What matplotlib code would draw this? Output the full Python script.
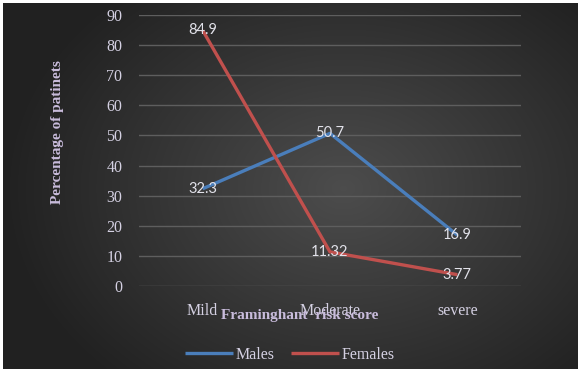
import numpy as np
import matplotlib
matplotlib.use("Agg")
import matplotlib.pyplot as plt

categories = ["Mild", "Moderate", "severe"]
males = [32.3, 50.7, 16.9]
females = [84.9, 11.32, 3.77]
male_labels = ["32.3", "50.7", "16.9"]
female_labels = ["84.9", "11.32", "3.77"]

W, H = 581, 372
fig = plt.figure(figsize=(W / 100, H / 100), dpi=100, facecolor="white")

# radial dark gradient background
bg = fig.add_axes([3 / W, 3 / H, 575 / W, 366 / H])
yy, xx = np.mgrid[0:366, 0:575]
d = np.sqrt(((xx - 340) / 340.0) ** 2 + ((yy - 185) / 260.0) ** 2)
d = np.clip(d, 0, 1)
c_in, c_out = 0.30, 0.13
shade = c_in * (1 - d) + c_out * d
img = np.dstack([shade, shade, shade])
bg.imshow(img, aspect="auto", interpolation="bilinear")
bg.axis("off")

ax = fig.add_axes([139 / W, (H - 286) / H, 382 / W, 271 / H])
ax.set_facecolor("none")
x = np.arange(len(categories))

ax.plot(x, males, color="#4a7ebb", lw=2.4, label="Males", solid_capstyle="butt")
ax.plot(x, females, color="#c0504d", lw=2.4, label="Females", solid_capstyle="butt")

lab_col = "#e2e2ea"
for xi, v, t in zip(x, males, male_labels):
    ax.text(xi, v, t, ha="center", va="center", color=lab_col, fontsize=10.5,
            family="Lato", zorder=5)
for xi, v, t in zip(x, females, female_labels):
    ax.text(xi, v, t, ha="center", va="center", color=lab_col, fontsize=10.5,
            family="Lato", zorder=5)

ax.set_xlim(-0.5, 2.5)
ax.set_ylim(0, 90)
ax.set_yticks(range(0, 91, 10))
ax.yaxis.grid(True, color="#5e5e5e", lw=1)
ax.set_axisbelow(True)
for s in ax.spines.values():
    s.set_visible(False)
ax.tick_params(length=0)
ax.set_xticks(x)
ax.set_xticklabels(categories)
ax.tick_params(axis="y", pad=12)
ax.tick_params(axis="x", pad=12)
for lbl in ax.get_xticklabels() + ax.get_yticklabels():
    lbl.set_family("Liberation Serif")
    lbl.set_fontsize(11.5)
    lbl.set_color("#d4d0e2")

title_col = "#c9bcdc"
fig.text(300 / W, 1 - 316 / H, "Framinghant  risk score", ha="center", va="center",
         family="Liberation Serif", fontweight="bold", fontsize=11, color=title_col)
fig.text(57 / W, 1 - 132 / H, "Percentage of patinets", ha="center", va="center",
         rotation=90, family="Liberation Serif", fontweight="bold", fontsize=11,
         color=title_col)

leg = fig.legend(loc="center", bbox_to_anchor=(290 / W, 1 - 355 / H), ncol=2,
                 frameon=False, handlelength=3.0, handletextpad=0.2, columnspacing=1.0,
                 prop={"family": "Liberation Serif", "size": 11.5})
for t in leg.get_texts():
    t.set_color("#d4d0e2")

fig.savefig("out.png", dpi=100, facecolor="white")
